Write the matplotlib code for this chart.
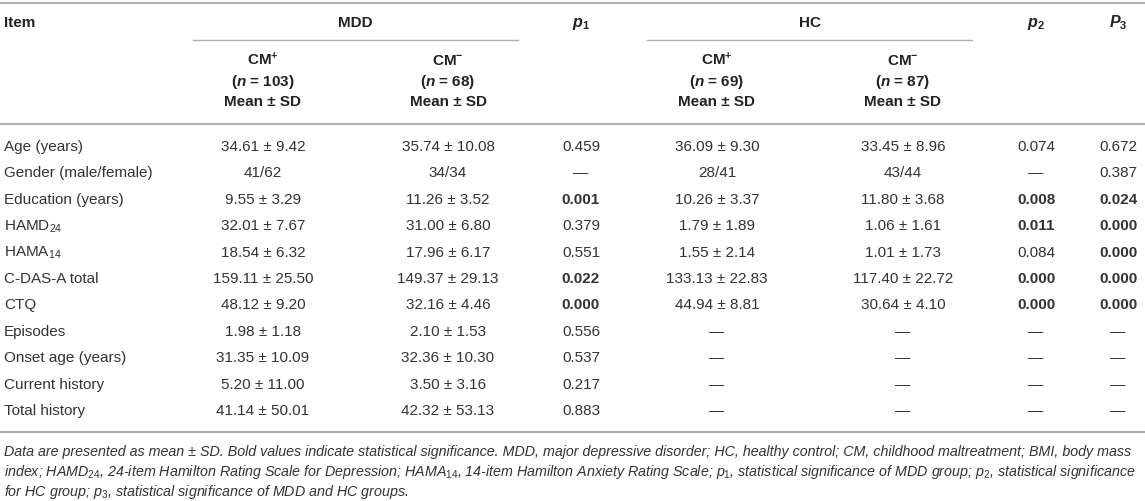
import matplotlib
matplotlib.use("Agg")
import matplotlib.pyplot as plt

plt.rcParams['font.family'] = ['Liberation Sans', 'DejaVu Sans']
plt.rcParams['mathtext.fontset'] = 'custom'
plt.rcParams['mathtext.rm'] = 'Liberation Sans'
plt.rcParams['mathtext.it'] = 'Liberation Sans:italic'
plt.rcParams['mathtext.bf'] = 'Liberation Sans:bold'
plt.rcParams['mathtext.bfit'] = 'Liberation Sans:italic:bold'

# table data
items = ['Age (years)', 'Gender (male/female)', 'Education (years)', r'HAMD$_{24}$',
         r'HAMA$_{14}$', 'C-DAS-A total', 'CTQ', 'Episodes', 'Onset age (years)',
         'Current history', 'Total history']

mdd_pos_mean = [34.61, None, 9.55, 32.01, 18.54, 159.11, 48.12, 1.98, 31.35, 5.20, 41.14]
mdd_pos_sd = [9.42, None, 3.29, 7.67, 6.32, 25.50, 9.20, 1.18, 10.09, 11.00, 50.01]
mdd_neg_mean = [35.74, None, 11.26, 31.00, 17.96, 149.37, 32.16, 2.10, 32.36, 3.50, 42.32]
mdd_neg_sd = [10.08, None, 3.52, 6.80, 6.17, 29.13, 4.46, 1.53, 10.30, 3.16, 53.13]
hc_pos_mean = [36.09, None, 10.26, 1.79, 1.55, 133.13, 44.94]
hc_pos_sd = [9.30, None, 3.37, 1.89, 2.14, 22.83, 8.81]
hc_neg_mean = [33.45, None, 11.80, 1.06, 1.01, 117.40, 30.64]
hc_neg_sd = [8.96, None, 3.68, 1.61, 1.73, 22.72, 4.10]
gender = {'mdd_pos': '41/62', 'mdd_neg': '34/34', 'hc_pos': '28/41', 'hc_neg': '43/44'}

p1 = ['0.459', None, '0.001', '0.379', '0.551', '0.022', '0.000', '0.556', '0.537', '0.217', '0.883']
p2 = ['0.074', None, '0.008', '0.011', '0.084', '0.000', '0.000']
p3 = ['0.672', '0.387', '0.024', '0.000', '0.000', '0.000', '0.000']

n_counts = [103, 68, 69, 87]

footnote = [
    r"Data are presented as mean ± SD. Bold values indicate statistical significance. MDD, major depressive disorder; HC, healthy control; CM, childhood maltreatment; BMI, body mass",
    r"index; $\mathit{HAMD}_{\mathit{24}}$, 24-item Hamilton Rating Scale for Depression; $\mathit{HAMA}_{\mathit{14}}$, 14-item Hamilton Anxiety Rating Scale; $\mathit{p}_{\mathit{1}}$, statistical significance of MDD group; $\mathit{p}_{\mathit{2}}$, statistical significance",
    r"for HC group; $\mathit{p}_{\mathit{3}}$, statistical significance of MDD and HC groups.",
]

DASH = '\u2014'
TXT = '#333333'
HDR = '#222222'
RULE = '#b0b0b0'
FS = 11
BL = 4  # baseline offset below the visual centre of a line

fig = plt.figure(figsize=(11.45, 5.02), dpi=100)
ax = fig.add_axes([0, 0, 1, 1])
ax.set_xlim(0, 1145)
ax.set_ylim(502, 0)
ax.axis('off')


def put(x, y, s, ha='center', **kw):
    kw.setdefault('fontsize', FS)
    kw.setdefault('color', TXT)
    ax.text(x, y + BL, s, ha=ha, va='baseline', **kw)


# column centres
x_item = 4
x_cols = [263, 448, 717, 903]
x_p1, x_p2, x_p3 = 581, 1036, 1118

# rules
for y in (4, 125, 433):
    ax.plot([0, 1145], [y, y], color=RULE, lw=1.6, solid_capstyle='butt')
ax.plot([193, 518], [41, 41], color=RULE, lw=1.0)
ax.plot([647, 972], [41, 41], color=RULE, lw=1.0)

# header
hy = 23
put(x_item, hy, 'Item', ha='left', fontweight='bold', color=HDR)
put(355, hy, 'MDD', fontweight='bold', color=HDR)
put(810, hy, 'HC', fontweight='bold', color=HDR)
put(x_p1, hy, r'$\mathbfit{p}_{\mathbf{1}}$', fontsize=FS + 0.5, color=HDR)
put(x_p2, hy, r'$\mathbfit{p}_{\mathbf{2}}$', fontsize=FS + 0.5, color=HDR)
put(x_p3, hy, r'$\mathbfit{P}_{\mathbf{3}}$', fontsize=FS + 0.5, color=HDR)

signs = ['+', '-', '+', '-']
for x, s, n in zip(x_cols, signs, n_counts):
    put(x, 61, r'CM$^{\mathbf{%s}}$' % s, fontweight='bold', color=HDR)
    put(x, 82, r'($\mathbfit{n}$ = %d)' % n, fontweight='bold', color=HDR)
    put(x, 102, 'Mean ± SD', fontweight='bold', color=HDR)


def cell(means, sds, i, key):
    if i >= len(means):
        return DASH
    if means[i] is None:
        return gender[key]
    return '%.2f ± %.2f' % (means[i], sds[i])


def pcell(vals, i):
    if i >= len(vals) or vals[i] is None:
        return DASH, 'normal'
    return vals[i], ('bold' if float(vals[i]) < 0.05 else 'normal')


y0, dy = 147, 26.4
for i, name in enumerate(items):
    y = y0 + dy * i
    put(x_item, y, name, ha='left')
    cells = [cell(mdd_pos_mean, mdd_pos_sd, i, 'mdd_pos'),
             cell(mdd_neg_mean, mdd_neg_sd, i, 'mdd_neg'),
             cell(hc_pos_mean, hc_pos_sd, i, 'hc_pos'),
             cell(hc_neg_mean, hc_neg_sd, i, 'hc_neg')]
    for x, c in zip(x_cols, cells):
        put(x, y, c)
    for x, vals in ((x_p1, p1), (x_p2, p2), (x_p3, p3)):
        t, w = pcell(vals, i)
        put(x, y, t, fontweight=w)

for k, line in enumerate(footnote):
    put(x_item, 452 + 20 * k, line, ha='left', fontsize=10.3, style='italic')

fig.savefig('out.png', dpi=100)
